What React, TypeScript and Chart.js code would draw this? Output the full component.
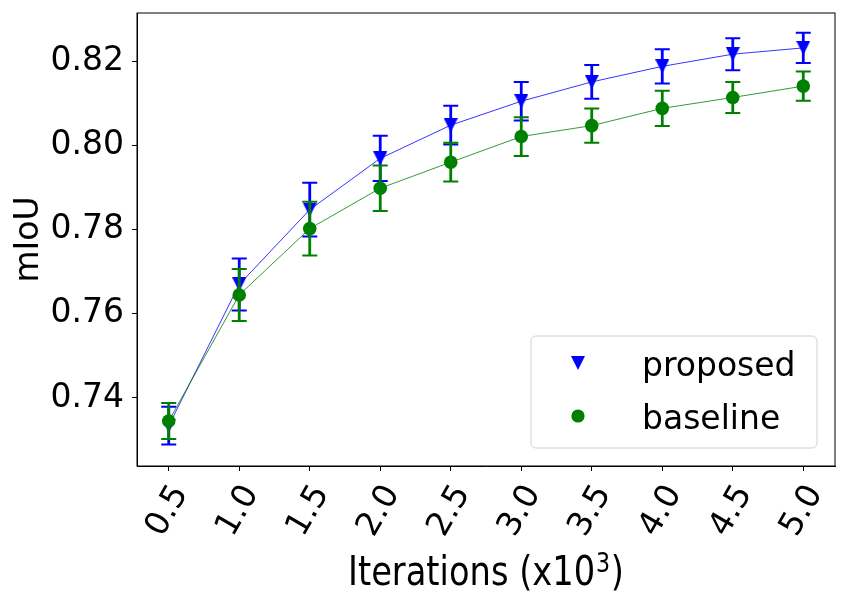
import React, { useEffect, useRef } from 'react';
import { Chart, registerables } from 'chart.js';

Chart.register(...registerables);

// iterations (x10^3)
const iterations = [0.5, 1.0, 1.5, 2.0, 2.5, 3.0, 3.5, 4.0, 4.5, 5.0];
const xTickLabels = ['0.5', '1.0', '1.5', '2.0', '2.5', '3.0', '3.5', '4.0', '4.5', '5.0'];

const proposedMean = [0.7334, 0.767, 0.7848, 0.797, 0.8049, 0.8106, 0.8152, 0.8189, 0.8218, 0.8233];
const proposedErr = [0.0045, 0.0062, 0.0064, 0.0054, 0.0046, 0.0046, 0.004, 0.0041, 0.0038, 0.0036];
const baselineMean = [0.7345, 0.7645, 0.7803, 0.7899, 0.7961, 0.8022, 0.8048, 0.8089, 0.8115, 0.8142];
const baselineErr = [0.0043, 0.0062, 0.0064, 0.0054, 0.0046, 0.0046, 0.0041, 0.0042, 0.0037, 0.0035];

const yTicks = [0.74, 0.76, 0.78, 0.8, 0.82];

const FONT = '"DejaVu Sans", sans-serif';
const BLUE = '#0000ff';
const GREEN = '#008000';

// matplotlib-like 'v' marker
function makeTriangle(color: string, size: number) {
    const c = document.createElement('canvas');
    c.width = size;
    c.height = size;
    const g = c.getContext('2d')!;
    g.fillStyle = color;
    g.beginPath();
    g.moveTo(0, 0);
    g.lineTo(size, 0);
    g.lineTo(size / 2, size);
    g.closePath();
    g.fill();
    return c;
}

const errorBars = {
    id: 'errorBars',
    beforeDatasetDraw(chart: any, args: any) {
        const ds = chart.data.datasets[args.index];
        const errs: number[] = ds.errors;
        if (!errs) return;
        const { ctx, scales: { x, y } } = chart;
        ctx.save();
        ctx.strokeStyle = ds.errColor;
        ds.data.forEach((pt: any, i: number) => {
            const px = x.getPixelForValue(pt.x);
            const top = y.getPixelForValue(pt.y + errs[i]);
            const bot = y.getPixelForValue(pt.y - errs[i]);
            ctx.lineWidth = 2.8;
            ctx.beginPath();
            ctx.moveTo(px, top);
            ctx.lineTo(px, bot);
            ctx.stroke();
            ctx.lineWidth = 2;
            ctx.beginPath();
            ctx.moveTo(px - 7.5, top);
            ctx.lineTo(px + 7.5, top);
            ctx.moveTo(px - 7.5, bot);
            ctx.lineTo(px + 7.5, bot);
            ctx.stroke();
        });
        ctx.restore();
    },
};

const decorations = {
    id: 'decorations',
    beforeDatasetsDraw(chart: any) {
        // top and right spines
        const { ctx, chartArea: ca } = chart;
        ctx.save();
        ctx.strokeStyle = '#000';
        ctx.lineWidth = 1;
        ctx.strokeRect(ca.left, ca.top, ca.right - ca.left, ca.bottom - ca.top);
        ctx.restore();
    },
    afterDraw(chart: any) {
        const { ctx, chartArea: ca, scales: { x } } = chart;
        ctx.save();
        ctx.fillStyle = '#000';

        // rotated x tick labels, centred under each tick
        ctx.font = `33px ${FONT}`;
        ctx.textAlign = 'center';
        ctx.textBaseline = 'middle';
        iterations.forEach((v, i) => {
            ctx.save();
            ctx.translate(x.getPixelForValue(v) - 1, ca.bottom + 45);
            ctx.rotate(-Math.PI / 3);
            ctx.fillText(xTickLabels[i], 0, 0);
            ctx.restore();
        });

        // x axis title with a raised exponent
        const main = 'Iterations (x10';
        const sup = '3';
        const close = ')';
        ctx.font = `41px ${FONT}`;
        const wMain = ctx.measureText(main).width;
        const wClose = ctx.measureText(close).width;
        ctx.font = `27px ${FONT}`;
        const wSup = ctx.measureText(sup).width + 2;
        const total = wMain + wSup + wClose;
        ctx.save();
        ctx.translate((ca.left + ca.right) / 2, ca.bottom + 119);
        ctx.scale(276 / total, 1);
        ctx.textAlign = 'left';
        ctx.textBaseline = 'alphabetic';
        let cx = -total / 2;
        ctx.font = `41px ${FONT}`;
        ctx.fillText(main, cx, 0);
        cx += wMain + 1;
        ctx.font = `27px ${FONT}`;
        ctx.fillText(sup, cx, -13);
        cx += wSup - 1;
        ctx.font = `41px ${FONT}`;
        ctx.fillText(close, cx, 0);
        ctx.restore();

        // legend
        const bx = ca.right - 304;
        const by = ca.bottom - 130;
        ctx.beginPath();
        ctx.roundRect(bx, by, 286, 112, 5);
        ctx.fillStyle = 'rgba(255,255,255,0.8)';
        ctx.fill();
        ctx.strokeStyle = '#d0d0d0';
        ctx.lineWidth = 1;
        ctx.stroke();

        const tri = chart.data.datasets[1].pointStyle;
        ctx.drawImage(tri, bx + 47 - tri.width / 2, by + 27 - tri.height / 2);
        ctx.fillStyle = GREEN;
        ctx.beginPath();
        ctx.arc(bx + 47, by + 80, 6.6, 0, Math.PI * 2);
        ctx.fill();

        ctx.fillStyle = '#000';
        ctx.font = `33px ${FONT}`;
        ctx.textAlign = 'left';
        ctx.textBaseline = 'alphabetic';
        ctx.fillText('proposed', bx + 111, by + 40);
        ctx.fillText('baseline', bx + 111, by + 93);
        ctx.restore();
    },
};

const App: React.FC = () => {
    const canvasRef = useRef<HTMLCanvasElement | null>(null);
    const chartRef = useRef<Chart | null>(null);

    useEffect(() => {
        if (!canvasRef.current) return;
        if (chartRef.current) chartRef.current.destroy();

        const triangle = makeTriangle(BLUE, 14);

        chartRef.current = new Chart(canvasRef.current, {
            type: 'line',
            data: {
                datasets: [
                    {
                        label: 'baseline',
                        data: iterations.map((v, i) => ({ x: v, y: baselineMean[i] })),
                        borderColor: GREEN,
                        borderWidth: 0.8,
                        pointStyle: 'circle',
                        pointRadius: 6.8,
                        pointBorderWidth: 0,
                        pointBackgroundColor: GREEN,
                        order: 0,
                        errors: baselineErr,
                        errColor: GREEN,
                    } as any,
                    {
                        label: 'proposed',
                        data: iterations.map((v, i) => ({ x: v, y: proposedMean[i] })),
                        borderColor: BLUE,
                        borderWidth: 0.8,
                        pointStyle: triangle,
                        pointRadius: 7,
                        pointBorderWidth: 0,
                        pointBackgroundColor: BLUE,
                        order: 1,
                        errors: proposedErr,
                        errColor: BLUE,
                    } as any,
                ],
            },
            options: {
                animation: false,
                responsive: true,
                maintainAspectRatio: false,
                layout: { padding: { top: 13, right: 12, left: 0, bottom: 0 } },
                plugins: {
                    legend: { display: false },
                    tooltip: { enabled: false },
                },
                scales: {
                    x: {
                        type: 'linear',
                        min: 0.275,
                        max: 5.225,
                        afterBuildTicks: (s: any) => {
                            s.ticks = iterations.map((value) => ({ value }));
                        },
                        afterFit: (s: any) => {
                            s.height = 131;
                            s.paddingLeft = 0;
                            s.paddingRight = 0;
                        },
                        ticks: { display: false },
                        grid: {
                            display: true,
                            drawOnChartArea: false,
                            drawTicks: true,
                            tickLength: 5,
                            color: '#000',
                        },
                        border: { display: true, color: '#000', width: 1 },
                    },
                    y: {
                        type: 'linear',
                        min: 0.7238,
                        max: 0.8316,
                        afterBuildTicks: (s: any) => {
                            s.ticks = yTicks.map((value) => ({ value }));
                        },
                        afterFit: (s: any) => {
                            s.width = 137;
                            s.paddingTop = 0;
                            s.paddingBottom = 0;
                        },
                        ticks: {
                            color: '#000',
                            padding: 8,
                            font: { family: FONT, size: 33 },
                            callback: (v: any) => Number(v).toFixed(2),
                        },
                        grid: {
                            display: true,
                            drawOnChartArea: false,
                            drawTicks: true,
                            tickLength: 5,
                            color: '#000',
                        },
                        border: { display: true, color: '#000', width: 1 },
                        title: {
                            display: true,
                            text: 'mIoU',
                            color: '#000',
                            font: { family: FONT, size: 33 },
                            padding: { top: 10, bottom: 0 },
                        },
                    },
                },
            },
            plugins: [errorBars, decorations],
        });

        return () => {
            if (chartRef.current) {
                chartRef.current.destroy();
                chartRef.current = null;
            }
        };
    }, []);

    return (
        <div style={{ position: 'fixed', left: 0, top: 0, width: 847, height: 597, background: '#fff' }}>
            <canvas ref={canvasRef}></canvas>
        </div>
    );
};

export default App;
